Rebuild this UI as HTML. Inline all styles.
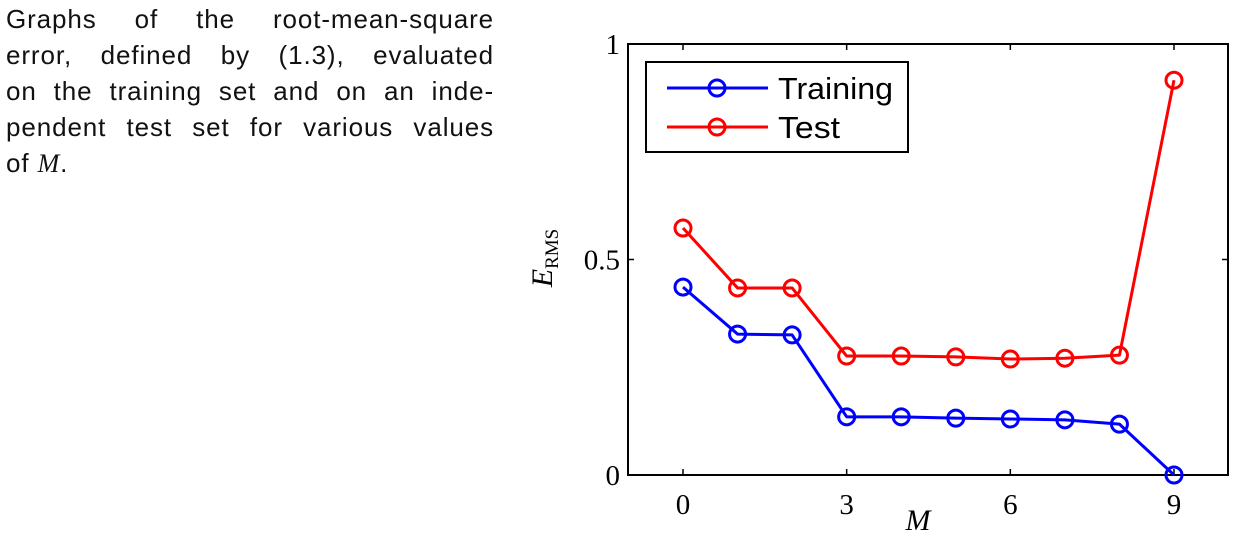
<!DOCTYPE html>
<html><head><meta charset="utf-8"><style>
body{margin:0;background:#fff;width:1240px;height:538px;overflow:hidden;position:relative;font-family:"Liberation Sans",sans-serif}
#caption{position:absolute;left:6px;top:1px;width:488px;font-size:26px;line-height:36px;color:#111;letter-spacing:0.9px}
#caption div{text-align:justify;text-align-last:justify;white-space:nowrap;height:36px}
#caption div.last{text-align-last:left}
svg{position:absolute;left:0;top:0}
</style></head><body>
<div id="caption">
<div>Graphs of the root-mean-square</div>
<div>error, defined by (1.3), evaluated</div>
<div>on the training set and on an inde-</div>
<div>pendent test set for various values</div>
<div class="last">of <i style="font-family:'Liberation Serif',serif">M</i>.</div>
</div>
<svg id="chart" width="1240" height="538"></svg>
<script>
const mValues=[0,1,2,3,4,5,6,7,8,9];
const trainingErr=[0.436,0.327,0.325,0.135,0.135,0.132,0.130,0.128,0.118,0.0];
const testErr=[0.573,0.434,0.434,0.276,0.276,0.274,0.269,0.271,0.278,0.916];
const xTicks=[0,3,6,9];
const yTicks=[0,0.5,1];
const yTickLabels=["0","0.5","1"];
const NS="http://www.w3.org/2000/svg";
const svg=document.getElementById('chart');
const L=628,R=1228,T=44,B=475;
const xs=m=>683+(1174-683)*m/9;
const ys=v=>B-(B-T)*v;
function mk(tag,at,parent){const e=document.createElementNS(NS,tag);for(const k in at)e.setAttribute(k,at[k]);(parent||svg).appendChild(e);return e;}
const frame=mk('rect',{x:L,y:T,width:R-L,height:B-T,fill:'none',stroke:'#000','stroke-width':2});


xTicks.forEach(t=>{
  const x=xs(t);
  const a=mk('line',{x1:x,y1:B,x2:x,y2:B-6,stroke:'#000','stroke-width':1.5});
  
  
  mk('line',{x1:x,y1:T,x2:x,y2:T+6,stroke:'#000','stroke-width':1.5});
  const tx=mk('text',{x:x,y:514,'text-anchor':'middle','font-family':'Liberation Serif, serif','font-size':29});
  tx.textContent=String(t);
  
  
});
yTicks.forEach((t,i)=>{
  const y=ys(t);
  const a=mk('line',{x1:L,y1:y,x2:L+6,y2:y,stroke:'#000','stroke-width':1.5});
  
  
  mk('line',{x1:R,y1:y,x2:R-6,y2:y,stroke:'#000','stroke-width':1.5});
  const tx=mk('text',{x:620,y:y+10,'text-anchor':'end','font-family':'Liberation Serif, serif','font-size':29});
  tx.textContent=yTickLabels[i];
  
  
});
const xt=mk('text',{x:918,y:530,'text-anchor':'middle','font-family':'Liberation Serif, serif','font-size':30,'font-style':'italic'});
xt.textContent='M';


const yt=mk('text',{transform:'translate(552,258) rotate(-90)','text-anchor':'middle','font-family':'Liberation Serif, serif','font-size':30});
yt.innerHTML='<tspan font-style="italic">E</tspan><tspan font-size="19" dy="6">RMS</tspan>';


function series(vals,color,name){
  const g=mk('g',{});
  
  
  const pts=vals.map((v,i)=>xs(mValues[i])+','+ys(v)).join(' ');
  mk('polyline',{points:pts,fill:'none',stroke:color,'stroke-width':3,'stroke-linejoin':'round'},g);
  vals.forEach((v,i)=>{
    const c=mk('circle',{cx:xs(mValues[i]),cy:ys(v),r:8,fill:'none',stroke:color,'stroke-width':3},g);
    
    
  });
}
series(testErr,'#f00','test');
series(trainingErr,'#00f','training');
const lg=mk('g',{});


mk('rect',{x:646,y:62,width:262,height:90,fill:'#fff',stroke:'#000','stroke-width':2},lg);
[['Training','#00f',88],['Test','#f00',127]].forEach(([n,c,y])=>{
  const e=mk('g',{},lg);
  
  
  mk('line',{x1:667,y1:y,x2:768,y2:y,stroke:c,'stroke-width':3},e);
  mk('circle',{cx:717,cy:y,r:8,fill:'none',stroke:c,'stroke-width':3},e);
  const t=mk('text',{x:778,y:y+11,'font-family':'Liberation Sans, sans-serif','font-size':31,'textLength':n==='Training'?115:62,'lengthAdjust':'spacingAndGlyphs'},e);
  t.textContent=n;
});
</script>
</body></html>
